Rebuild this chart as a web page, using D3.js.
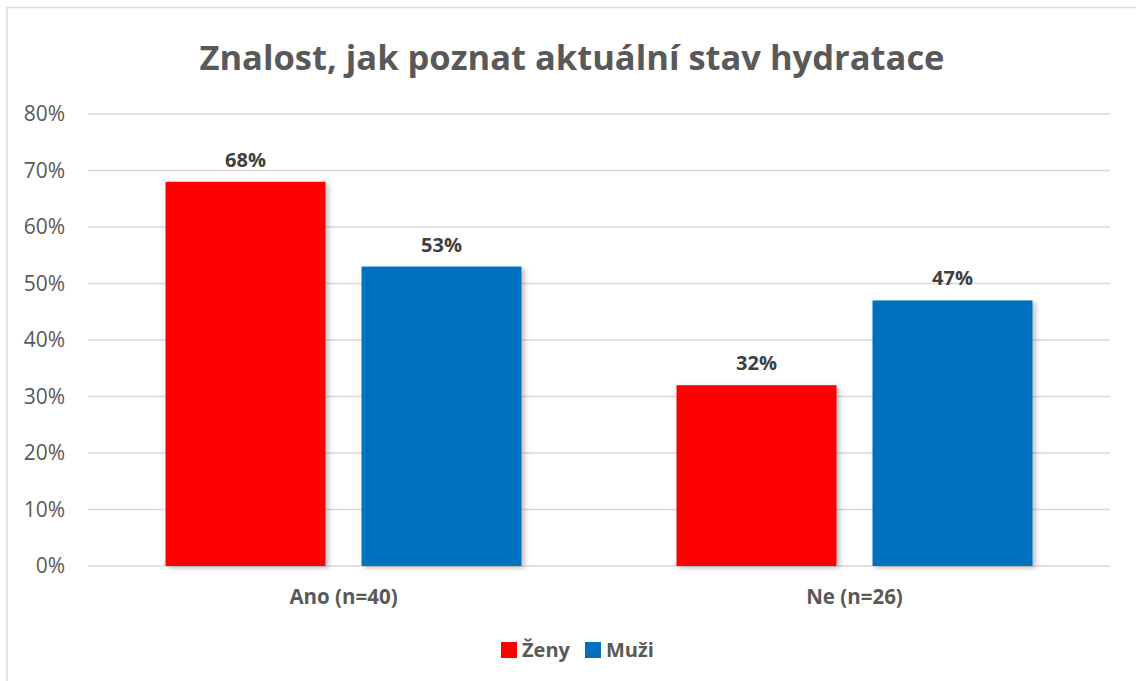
<!DOCTYPE html>
<html>
<head>
<meta charset="utf-8">
<script src="https://cdn.jsdelivr.net/npm/d3@7"></script>
<style>
  body { margin: 0; background: #fff; }
  svg { display: block; font-family: "Open Sans", "Noto Sans", sans-serif; }
</style>
</head>
<body>
<svg id="chart" width="1136" height="681"></svg>
<script>
// data
const categories = ["Ano (n=40)", "Ne (n=26)"];
const seriesNames = ["Ženy", "Muži"];
const zenyValues = [0.68, 0.32];
const muziValues = [0.53, 0.47];
const yTicks = [0, 0.1, 0.2, 0.3, 0.4, 0.5, 0.6, 0.7, 0.8];
const colors = ["#ff0000", "#0070c0"];

const svg = d3.select("#chart");
const margin = {top: 114, right: 26, bottom: 115, left: 88};
const width = 1136 - margin.left - margin.right;
const height = 681 - margin.top - margin.bottom;

// chart frame
svg.append("rect")
    .attr("x", 7).attr("y", 7.5)
    .attr("width", 1140).attr("height", 700)
    .attr("fill", "#fff")
    .attr("stroke", "#d9d9d9")
    .attr("stroke-width", 1.5);

// drop shadow for bars
const defs = svg.append("defs");
const f = defs.append("filter").attr("id", "shadow")
    .attr("x", "-10%").attr("y", "-10%").attr("width", "130%").attr("height", "130%");
f.append("feDropShadow")
    .attr("dx", 3).attr("dy", 2).attr("stdDeviation", 2.5)
    .attr("flood-color", "#000").attr("flood-opacity", 0.25);

svg.append("text")
    .attr("x", 572).attr("y", 70)
    .attr("text-anchor", "middle")
    .attr("font-size", 34.5).attr("font-weight", "bold")
    .attr("fill", "#595959")
    .text("Znalost, jak poznat aktuální stav hydratace");

const g = svg.append("g")
    .attr("transform", "translate(" + margin.left + "," + margin.top + ")");

let x0 = d3.scaleBand().domain(categories).range([0, width]).paddingInner(0).paddingOuter(0);
let y = d3.scaleLinear().domain([0, 0.8]).range([height, 0]);

// gridlines
g.append("g")
    .selectAll("line")
    .data(yTicks)
    .join("line")
    .attr("x1", 0).attr("x2", width)
    .attr("y1", d => y(d)).attr("y2", d => y(d))
    .attr("stroke", "#d9d9d9")
    .attr("stroke-width", 1.5);

// y axis labels
const yAxis = d3.axisLeft(y).tickValues(yTicks).tickFormat(d3.format(".0%")).tickSize(0).tickPadding(23);
g.append("g")
    .call(yAxis)
    .call(s => s.select(".domain").remove())
    .selectAll("text")
    .attr("font-size", 21)
    .attr("font-family", "\"Open Sans\", sans-serif")
    .attr("fill", "#595959");

// bars
const barW = 160, gap = 36;
const rows = categories.map((c, i) => ({cat: c, vals: [zenyValues[i], muziValues[i]]}));
const groups = g.selectAll(".cat")
    .data(rows)
    .join("g")
    .attr("class", "cat")
    .attr("transform", d => "translate(" + (x0(d.cat) + x0.bandwidth() / 2) + ",0)");

groups.selectAll("rect")
    .data(d => d.vals.map((v, j) => ({v, j})))
    .join("rect")
    .attr("x", d => d.j === 0 ? -barW - gap / 2 : gap / 2)
    .attr("y", d => y(d.v))
    .attr("width", barW)
    .attr("height", d => height - y(d.v))
    .attr("fill", d => colors[d.j])
    .attr("filter", "url(#shadow)");

groups.selectAll(".lbl")
    .data(d => d.vals.map((v, j) => ({v, j})))
    .join("text")
    .attr("class", "lbl")
    .attr("x", d => d.j === 0 ? -barW / 2 - gap / 2 : gap / 2 + barW / 2)
    .attr("y", d => y(d.v) - 15)
    .attr("text-anchor", "middle")
    .attr("font-size", 20).attr("font-weight", "bold")
    .attr("fill", "#404040")
    .text(d => Math.round(d.v * 100) + "%");

// x axis labels
g.append("g")
    .selectAll("text")
    .data(categories)
    .join("text")
    .attr("x", d => x0(d) + x0.bandwidth() / 2)
    .attr("y", height + 38)
    .attr("text-anchor", "middle")
    .attr("font-size", 20.5).attr("font-weight", "bold")
    .attr("fill", "#595959")
    .text(d => d);

// legend
const legend = svg.append("g").attr("transform", "translate(501,650)");
const items = legend.selectAll("g")
    .data(seriesNames)
    .join("g")
    .attr("transform", (d, i) => "translate(" + (i * 84) + ",0)");
items.append("rect")
    .attr("x", 0).attr("y", -8)
    .attr("width", 16).attr("height", 16)
    .attr("fill", (d, i) => colors[i]);
items.append("text")
    .attr("x", 21).attr("y", 7)
    .attr("font-size", 20).attr("font-weight", "bold")
    .attr("fill", "#595959")
    .text(d => d);
</script>
</body>
</html>
